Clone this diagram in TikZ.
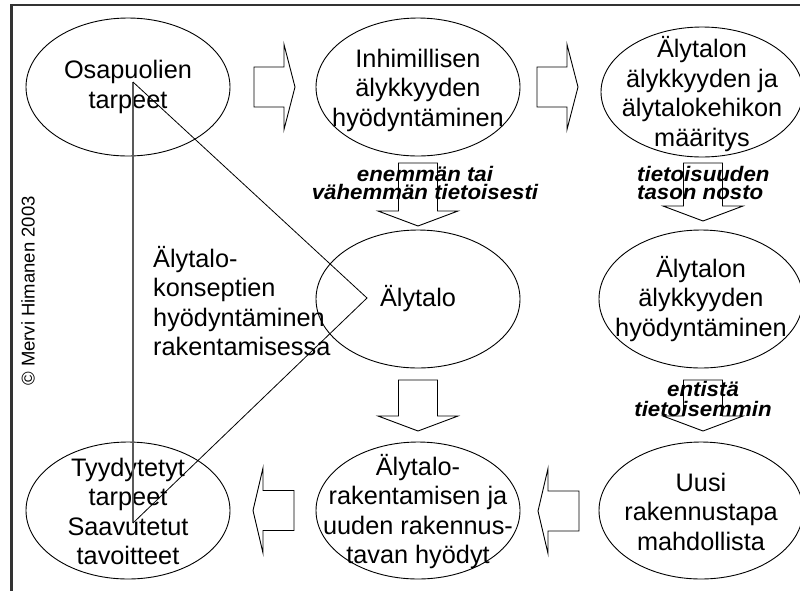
\documentclass[tikz,border=0pt]{standalone}
\usepackage{fontspec}
\setmainfont{Liberation Sans}
\newfontfamily\lblfont[FakeStretch=1.06]{Liberation Sans}
\usetikzlibrary{shapes.geometric}

% block arrows drawn from their tip
\newcommand\blockright[2]{%
  \draw[blockarrow] (#1,#2) -- (#1-11,#2-42.5) -- (#1-11,#2-20) -- (#1-41,#2-20)
    -- (#1-41,#2+20) -- (#1-11,#2+20) -- (#1-11,#2+42.5) -- cycle;}
\newcommand\blockleft[2]{%
  \draw[blockarrow] (#1,#2) -- (#1+10,#2-42.5) -- (#1+10,#2-20) -- (#1+41,#2-20)
    -- (#1+41,#2+20) -- (#1+10,#2+20) -- (#1+10,#2+42.5) -- cycle;}
\newcommand\blockdown[3]{%
  \draw[blockarrow] (#1,#2) -- (#1-40,#2-15) -- (#1-19.5,#2-15) -- (#1-19.5,#2-#3)
    -- (#1+19.5,#2-#3) -- (#1+19.5,#2-15) -- (#1+40,#2-15) -- cycle;}

\tikzset{
  ell/.style={draw, ellipse, line width=0.9pt, minimum width=204pt, minimum height=138pt, inner sep=0pt},
  txt/.style={align=center, inner sep=0pt, font=\fontsize{25.3}{29.5}\selectfont},
  lbl/.style={inner sep=0pt, font=\lblfont\bfseries\itshape\fontsize{21}{18.5}\selectfont},
  blockarrow/.style={line width=0.9pt, line join=miter},
  frame/.style={draw=black!80, line width=2.5pt},
}

\begin{document}
\begin{tikzpicture}[x=1pt, y=-1pt]
\useasboundingbox (0,0) rectangle (800,590);

% frame
\draw[frame] (11.5,600) -- (11.5,5) -- (810,5);

% ellipses
\node[ell] (e1) at (128,87) {};
\node[ell] (e2) at (418,87) {};
\node[ell, minimum width=202pt, minimum height=130pt] (e3) at (702,92) {};
\node[ell] (e4) at (418,299) {};
\node[ell] (e5) at (701,299) {};
\node[ell, minimum height=137pt] (e6) at (128,510.5) {};
\node[ell, minimum height=137pt] (e7) at (418,510.5) {};
\node[ell, minimum height=137pt] (e8) at (701,510.5) {};

% ellipse texts
\node[txt] (t1) at (e1) {Osapuolien\\tarpeet};
\node[txt] (t2) at ([yshift=-3pt]e2) {Inhimillisen\\älykkyyden\\hyödyntäminen};
\node[txt] (t3) at ([yshift=-2pt]e3) {Älytalon\\älykkyyden ja\\älytalokehikon\\määritys};
\node[txt] (t4) at (e4) {Älytalo};
\node[txt] (t5) at (e5) {Älytalon\\älykkyyden\\hyödyntäminen};
\node[txt] (t6) at ([yshift=-1pt]e6) {Tyydytetyt\\tarpeet\\Saavutetut\\tavoitteet};
\node[txt] (t7) at ([yshift=-1pt]e7) {Älytalo-\\rakentamisen ja\\uuden rakennus-\\tavan hyödyt};
\node[txt] (t8) at ([yshift=-1pt]e8) {Uusi\\rakennustapa\\mahdollista};

% block arrows
\blockright{295}{87}
\blockright{578}{87}
\blockdown{418}{226}{63}
\blockdown{703}{221}{58}
\blockdown{418}{431}{51}
\blockdown{703}{431}{51}
\blockleft{253}{510.5}
\blockleft{538}{511}

% arrow labels
\node[lbl, align=center] (l1) at (425,183) {enemmän tai\\vähemmän tietoisesti};
\node[lbl, align=left, anchor=west] (l2) at (637,183) {tietoisuuden\\tason nosto};
\node[lbl, align=center, font=\lblfont\bfseries\itshape\fontsize{21}{20.5}\selectfont] (l3) at (703,399) {entistä\\tietoisemmin};

% concept triangle
\coordinate (ta) at (133,82);
\coordinate (tb) at (367,298);
\coordinate (tc) at (133,523);
\draw[black!65, line width=1.2pt] (ta) -- (tc);
\draw[line width=0.8pt] (ta) -- (tb) -- (tc);
\node[txt, align=left, anchor=west] (tl) at (153,301) {Älytalo-\\konseptien\\hyödyntäminen\\rakentamisessa};

% copyright
\node[rotate=90, inner sep=0pt, font=\fontsize{18.5}{20}\selectfont] (cr) at (28,291) {© Mervi Himanen 2003};
\end{tikzpicture}
\end{document}
